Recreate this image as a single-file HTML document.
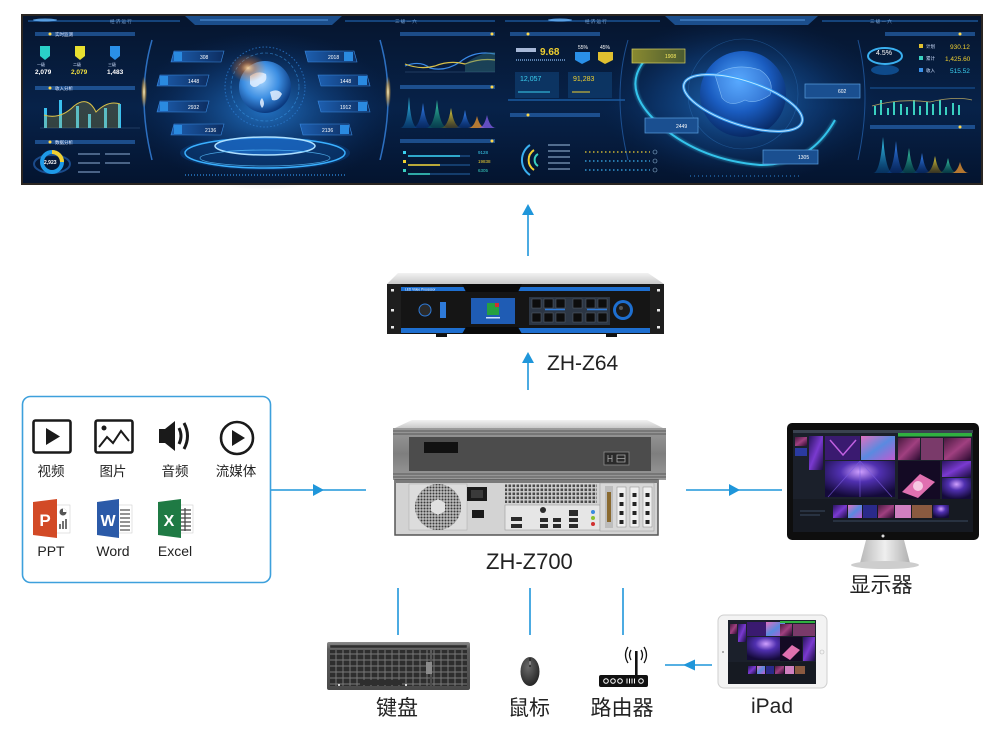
<!DOCTYPE html>
<html><head><meta charset="utf-8">
<style>
html,body{margin:0;padding:0;background:#fff;}
svg{display:block;}
text{font-family:"Liberation Sans","Noto Sans CJK SC",sans-serif;}
</style></head><body>
<svg width="1000" height="732" viewBox="0 0 1000 732" xmlns="http://www.w3.org/2000/svg">
<defs>
 <linearGradient id="bg" x1="0" y1="0" x2="0" y2="1">
  <stop offset="0" stop-color="#06152e"/>
  <stop offset="0.55" stop-color="#072249"/>
  <stop offset="1" stop-color="#04142f"/>
 </linearGradient>
 <radialGradient id="glow" cx="0.5" cy="0.5" r="0.5">
  <stop offset="0" stop-color="#2a8ae8" stop-opacity="0.75"/>
  <stop offset="0.6" stop-color="#134f9a" stop-opacity="0.35"/>
  <stop offset="1" stop-color="#0a2a5a" stop-opacity="0"/>
 </radialGradient>
 <radialGradient id="globe1" cx="0.42" cy="0.38" r="0.62">
  <stop offset="0" stop-color="#a8d6ff"/>
  <stop offset="0.55" stop-color="#3c8ee2"/>
  <stop offset="1" stop-color="#0b3a80"/>
 </radialGradient>
 <radialGradient id="globe2" cx="0.45" cy="0.35" r="0.65">
  <stop offset="0" stop-color="#4fa6ff"/>
  <stop offset="0.55" stop-color="#1a5cc0"/>
  <stop offset="1" stop-color="#082a66"/>
 </radialGradient>
 <radialGradient id="orange" cx="0.5" cy="0.5" r="0.5">
  <stop offset="0" stop-color="#ffd9a0" stop-opacity="0.95"/>
  <stop offset="0.4" stop-color="#e07a30" stop-opacity="0.5"/>
  <stop offset="1" stop-color="#e07a30" stop-opacity="0"/>
 </radialGradient>
 <radialGradient id="gold" cx="0.5" cy="0.5" r="0.5">
  <stop offset="0" stop-color="#fff2c0"/>
  <stop offset="0.5" stop-color="#e6b050" stop-opacity="0.6"/>
  <stop offset="1" stop-color="#e6b050" stop-opacity="0"/>
 </radialGradient>
 <linearGradient id="spikeC" x1="0" y1="0" x2="0" y2="1">
  <stop offset="0" stop-color="#3ee0ff"/><stop offset="1" stop-color="#0a5aa0" stop-opacity="0.4"/>
 </linearGradient>
 <linearGradient id="spikeB" x1="0" y1="0" x2="0" y2="1">
  <stop offset="0" stop-color="#3a8cff"/><stop offset="1" stop-color="#0a3a90" stop-opacity="0.4"/>
 </linearGradient>
 <linearGradient id="spikeY" x1="0" y1="0" x2="0" y2="1">
  <stop offset="0" stop-color="#f0e040"/><stop offset="1" stop-color="#806010" stop-opacity="0.4"/>
 </linearGradient>
 <linearGradient id="spikeT" x1="0" y1="0" x2="0" y2="1">
  <stop offset="0" stop-color="#3ed8b0"/><stop offset="1" stop-color="#0a6a60" stop-opacity="0.4"/>
 </linearGradient>
 <linearGradient id="boxg" x1="0" y1="0" x2="1" y2="0">
  <stop offset="0" stop-color="#1d5fb0"/><stop offset="1" stop-color="#0d2d60"/>
 </linearGradient>
 <linearGradient id="ybox" x1="0" y1="0" x2="1" y2="0">
  <stop offset="0" stop-color="#8a8a30"/><stop offset="1" stop-color="#4a5a30"/>
 </linearGradient>
 <linearGradient id="topgray" x1="0" y1="0" x2="0" y2="1">
  <stop offset="0" stop-color="#f2f2f2"/><stop offset="1" stop-color="#c9c9c9"/>
 </linearGradient>
 <linearGradient id="chassis" x1="0" y1="0" x2="0" y2="1">
  <stop offset="0" stop-color="#9a9a9a"/><stop offset="0.5" stop-color="#7e7e7e"/><stop offset="1" stop-color="#9a9a9a"/>
 </linearGradient>
 <linearGradient id="silver" x1="0" y1="0" x2="1" y2="0">
  <stop offset="0" stop-color="#b8b8b8"/><stop offset="0.5" stop-color="#efefef"/><stop offset="1" stop-color="#b0b0b0"/>
 </linearGradient>
 <linearGradient id="kb" x1="0" y1="0" x2="0" y2="1">
  <stop offset="0" stop-color="#8a8a8a"/><stop offset="0.15" stop-color="#5c5c5c"/><stop offset="1" stop-color="#4a4a4a"/>
 </linearGradient>
 <radialGradient id="mouseg" cx="0.4" cy="0.35" r="0.7">
  <stop offset="0" stop-color="#6a6a6a"/><stop offset="1" stop-color="#222"/>
 </radialGradient>
 <pattern id="mesh" width="3" height="3" patternUnits="userSpaceOnUse">
  <rect width="3" height="3" fill="#bdbdbd"/><circle cx="1.5" cy="1.5" r="1" fill="#3a3a3a"/>
 </pattern>
 <pattern id="vent" width="4" height="4" patternUnits="userSpaceOnUse">
  <rect width="4" height="4" fill="#d0d0d0"/><rect x="0.5" y="0.5" width="2.6" height="2.6" fill="#4a4a4a"/>
 </pattern>
 <pattern id="keys" width="7" height="6" patternUnits="userSpaceOnUse">
  <rect width="7" height="6" fill="#6a6a6a"/><rect x="0.6" y="0.6" width="5.8" height="4.8" rx="0.6" fill="#2e2e2e"/>
 </pattern>
 <linearGradient id="purp" x1="0" y1="0" x2="1" y2="1">
  <stop offset="0" stop-color="#2a1460"/><stop offset="0.5" stop-color="#7a3ad0"/><stop offset="1" stop-color="#1a0c40"/>
 </linearGradient>
 <linearGradient id="pink" x1="0" y1="0" x2="1" y2="1">
  <stop offset="0" stop-color="#e070c0"/><stop offset="0.5" stop-color="#5a8ae0"/><stop offset="1" stop-color="#c05ad0"/>
 </linearGradient>
 <radialGradient id="tunnel" cx="0.5" cy="0.3" r="0.7">
  <stop offset="0" stop-color="#d0a0ff"/><stop offset="0.4" stop-color="#5030b0"/><stop offset="1" stop-color="#140a3a"/>
 </radialGradient>
 <linearGradient id="mag" x1="0" y1="0" x2="1" y2="1">
  <stop offset="0" stop-color="#4a1a40"/><stop offset="0.5" stop-color="#a04080"/><stop offset="1" stop-color="#2a0a30"/>
 </linearGradient>
 <filter id="blur2"><feGaussianBlur stdDeviation="2"/></filter>
 <filter id="blur1"><feGaussianBlur stdDeviation="0.8"/></filter>
</defs>

<rect width="1000" height="732" fill="#fff"/>

<!-- ================= BANNER ================= -->
<rect x="21" y="14" width="962" height="171" fill="#2b2622"/>
<rect x="23" y="16" width="958" height="167" fill="url(#bg)"/>
<g clip-path="none">
 <!-- large glows -->
 <ellipse cx="265" cy="110" rx="130" ry="80" fill="url(#glow)"/>
 <ellipse cx="740" cy="100" rx="140" ry="85" fill="url(#glow)"/>
 <!-- header bars -->
 <path d="M185 16 L342 16 L332 25 L195 25Z" fill="#1b4e8c"/>
 <path d="M200 20 L328 20" stroke="#6fb6ff" stroke-width="1" opacity=".7"/>
 <path d="M665 16 L818 16 L808 25 L675 25Z" fill="#1b4e8c"/>
 <path d="M680 20 L805 20" stroke="#6fb6ff" stroke-width="1" opacity=".7"/>
 <path d="M28 21 L180 21 M345 21 L495 21 M505 21 L660 21 M822 21 L978 21" stroke="#1f5fa8" stroke-width="1.2"/>
 <ellipse cx="45" cy="20" rx="12" ry="1.5" fill="#6ab8ff" opacity=".8"/>
 <ellipse cx="560" cy="20" rx="12" ry="1.5" fill="#6ab8ff" opacity=".8"/>
 <text x="110" y="23" font-size="4.5" fill="#7ea8d8">经 济 运 行</text>
 <text x="395" y="23" font-size="4.5" fill="#7ea8d8">三 级 一 六</text>
 <text x="585" y="23" font-size="4.5" fill="#7ea8d8">经 济 运 行</text>
 <text x="870" y="23" font-size="4.5" fill="#7ea8d8">三 级 一 六</text>

 <!-- dividers / arcs -->
 <path d="M152 40 Q136 95 152 160" stroke="#2c6fc0" stroke-width="1.5" fill="none"/>
 <ellipse cx="144" cy="92" rx="3" ry="16" fill="url(#gold)"/>
 <path d="M380 40 Q396 95 380 160" stroke="#2c6fc0" stroke-width="1.5" fill="none"/>
 <ellipse cx="388" cy="92" rx="3" ry="16" fill="url(#gold)"/>
 <path d="M628 40 Q612 95 628 160" stroke="#1c4f90" stroke-width="1" fill="none"/>
 <path d="M858 40 Q872 95 858 160" stroke="#1c4f90" stroke-width="1" fill="none"/>

 <!-- Panel 1 (left) -->
 <g>
  <path d="M35 34 L135 34" stroke="#2c6fc0" stroke-width="4" opacity=".6"/>
  <circle cx="50" cy="34" r="1.5" fill="#ffd84a"/><text x="55" y="36" font-size="4.5" fill="#dfe8ff">实时监测</text>
  <path d="M40 46 L50 46 L50 56 L45 60 L40 56Z" fill="#2ad0c8"/>
  <path d="M75 46 L85 46 L85 56 L80 60 L75 56Z" fill="#e8e030"/>
  <path d="M110 46 L120 46 L120 56 L115 60 L110 56Z" fill="#2a90e8"/>
  <text x="37" y="66" font-size="4" fill="#cfe0ff">一级</text><text x="73" y="66" font-size="4" fill="#cfe0ff">二级</text><text x="108" y="66" font-size="4" fill="#cfe0ff">三级</text>
  <text x="35" y="74" font-size="6.5" fill="#fff" font-weight="bold">2,079</text>
  <text x="71" y="74" font-size="6.5" fill="#f0e040" font-weight="bold">2,079</text>
  <text x="107" y="74" font-size="6.5" fill="#fff" font-weight="bold">1,483</text>
  <path d="M35 88 L135 88" stroke="#2c6fc0" stroke-width="4" opacity=".6"/>
  <circle cx="50" cy="88" r="1.5" fill="#ffd84a"/><text x="55" y="90" font-size="4.5" fill="#dfe8ff">收入分析</text>
  <path d="M40 128 L140 128" stroke="#3a5a80" stroke-width=".6"/>
  <rect x="44" y="108" width="3" height="20" fill="#3ac0f0"/>
  <rect x="59" y="100" width="3" height="28" fill="#3ac0f0"/>
  <rect x="76" y="106" width="3" height="22" fill="#3ac0f0"/>
  <rect x="88" y="114" width="3" height="14" fill="#3ac0f0"/>
  <rect x="104" y="108" width="3" height="20" fill="#3ac0f0"/>
  <rect x="118" y="104" width="3" height="24" fill="#3ac0f0"/>
  <path d="M44 115 Q60 120 74 106 Q88 95 96 112 Q108 100 120 104 L120 128 L44 128Z" fill="#c0b040" opacity=".25"/>
  <path d="M44 115 Q60 120 74 106 Q88 95 96 112 Q108 100 120 104" stroke="#d8c048" stroke-width="1" fill="none"/>
  <path d="M35 142 L135 142" stroke="#2c6fc0" stroke-width="4" opacity=".6"/>
  <circle cx="50" cy="142" r="1.5" fill="#ffd84a"/><text x="55" y="144" font-size="4.5" fill="#dfe8ff">数据分析</text>
  <ellipse cx="52" cy="164" rx="18" ry="9" fill="none" stroke="#1a4a8a" stroke-width="2"/>
  <circle cx="52" cy="162" r="10" fill="none" stroke="#1e9ae8" stroke-width="4"/>
  <path d="M52 152 A10 10 0 0 1 62 162" stroke="#f0d030" stroke-width="4" fill="none"/>
  <text x="44" y="164" font-size="5" fill="#fff" font-weight="bold">2,923</text>
  <path d="M78 154 L100 154 M105 154 L130 154 M78 163 L100 163 M105 163 L130 163 M78 172 L100 172" stroke="#8fb0d8" stroke-width="1.2" opacity=".8"/>
 </g>

 <!-- Globe 1 -->
 <ellipse cx="265" cy="87" rx="40" ry="40" fill="none" stroke="#2a7ad0" stroke-width="1" stroke-dasharray="1.5 2" opacity=".8"/>
 <ellipse cx="265" cy="87" rx="34" ry="34" fill="none" stroke="#3a9ae8" stroke-width=".8" stroke-dasharray="3 2" opacity=".6"/>
 <circle cx="265" cy="87" r="26" fill="url(#globe1)"/>
 <path d="M250 76 Q258 70 266 74 Q268 82 260 84 Q254 90 250 84Z M270 92 Q278 88 282 94 Q278 102 272 100Z M262 98 Q266 104 262 108 Q258 102 262 98Z" fill="#e4f0ff" opacity=".85"/>
 <ellipse cx="248" cy="68" rx="18" ry="14" fill="url(#orange)"/>
 <!-- platform -->
 <ellipse cx="265" cy="153" rx="85" ry="17" fill="#0a3c7a" opacity=".6"/>
 <ellipse cx="265" cy="153" rx="80" ry="15" fill="none" stroke="#3ab0ff" stroke-width="1.5"/>
 <ellipse cx="265" cy="146" rx="50" ry="9" fill="#1d6fd0" opacity=".7"/>
 <ellipse cx="265" cy="146" rx="50" ry="9" fill="none" stroke="#aee0ff" stroke-width="1.5"/>
 <ellipse cx="265" cy="158" rx="65" ry="8" fill="none" stroke="#5ac0ff" stroke-width=".8" opacity=".8"/>
 <path d="M185 175 L345 175" stroke="#2a80d0" stroke-width="2" stroke-dasharray="1 2" opacity=".7"/>
 <!-- label boxes -->
 <g font-size="5" fill="#fff">
  <path d="M174 51 L224 51 L221 62 L171 62Z" fill="url(#boxg)" stroke="#3a8ae0" stroke-width=".6"/><rect x="174" y="52" width="8" height="9" fill="#2a8ae0"/><text x="200" y="59">308</text>
  <path d="M160 75 L209 75 L206 86 L157 86Z" fill="url(#boxg)" stroke="#3a8ae0" stroke-width=".6"/><rect x="160" y="76" width="8" height="9" fill="#2a8ae0"/><text x="188" y="83">1448</text>
  <path d="M160 101 L209 101 L206 112 L157 112Z" fill="url(#boxg)" stroke="#3a8ae0" stroke-width=".6"/><rect x="160" y="102" width="8" height="9" fill="#2a8ae0"/><text x="188" y="109">2932</text>
  <path d="M174 124 L224 124 L221 135 L171 135Z" fill="url(#boxg)" stroke="#3a8ae0" stroke-width=".6"/><rect x="174" y="125" width="8" height="9" fill="#2a8ae0"/><text x="205" y="132">2136</text>
  <path d="M305 51 L354 51 L357 62 L308 62Z" fill="url(#boxg)" stroke="#3a8ae0" stroke-width=".6"/><rect x="344" y="52" width="9" height="9" fill="#2a8ae0"/><text x="328" y="59">2018</text>
  <path d="M318 75 L367 75 L370 86 L321 86Z" fill="url(#boxg)" stroke="#3a8ae0" stroke-width=".6"/><rect x="358" y="76" width="9" height="9" fill="#2a8ae0"/><text x="340" y="83">1448</text>
  <path d="M318 101 L367 101 L370 112 L321 112Z" fill="url(#boxg)" stroke="#3a8ae0" stroke-width=".6"/><rect x="358" y="102" width="9" height="9" fill="#2a8ae0"/><text x="340" y="109">1912</text>
  <path d="M300 124 L349 124 L352 135 L303 135Z" fill="url(#boxg)" stroke="#3a8ae0" stroke-width=".6"/><rect x="340" y="125" width="9" height="9" fill="#2a8ae0"/><text x="322" y="132">2136</text>
 </g>

 <!-- Panel 3 -->
 <g>
  <path d="M400 34 L495 34" stroke="#2c6fc0" stroke-width="4" opacity=".6"/><circle cx="492" cy="34" r="1.5" fill="#ffd84a"/>
  <path d="M405 72 L495 72" stroke="#3a5a80" stroke-width=".6"/>
  <path d="M405 66 Q420 60 430 68 Q445 72 460 62 Q475 50 495 54" stroke="#3a8ae8" stroke-width="1.2" fill="none"/>
  <path d="M405 64 Q420 70 435 66 Q450 60 465 64 Q480 58 495 60" stroke="#d8c048" stroke-width="1.2" fill="none"/>
  <path d="M465 64 Q480 52 495 52 L495 72 L465 72Z" fill="#3a7a80" opacity=".4"/>
  <path d="M400 87 L495 87" stroke="#2c6fc0" stroke-width="4" opacity=".6"/><circle cx="492" cy="87" r="1.5" fill="#ffd84a"/>
  <path d="M400 128 Q407 128 409 97 Q411 128 418 128Z" fill="url(#spikeC)"/>
  <path d="M412 128 Q420 128 423 103 Q426 128 434 128Z" fill="url(#spikeB)"/>
  <path d="M426 128 Q434 128 437 100 Q440 128 448 128Z" fill="url(#spikeT)"/>
  <path d="M440 128 Q448 128 451 108 Q454 128 462 128Z" fill="url(#spikeY)"/>
  <path d="M454 128 Q462 128 465 110 Q468 128 476 128Z" fill="url(#spikeB)"/>
  <path d="M468 128 Q474 128 477 116 Q480 128 486 128Z" fill="#e09030" opacity=".8"/>
  <path d="M478 128 Q484 128 487 115 Q490 128 496 128Z" fill="#7a5ae0" opacity=".8"/>
  <path d="M400 141 L495 141" stroke="#2c6fc0" stroke-width="4" opacity=".6"/><circle cx="492" cy="141" r="1.5" fill="#ffd84a"/>
  <rect x="403" y="151" width="3" height="3" fill="#3ad0f0"/><path d="M408 156 L470 156" stroke="#1a4a80" stroke-width="1.5"/><path d="M408 156 L460 156" stroke="#3ad0f0" stroke-width="1.5"/><text x="478" y="154" font-size="4.5" fill="#3ad0f0">9128</text>
  <rect x="403" y="160" width="3" height="3" fill="#f0d030"/><path d="M408 165 L470 165" stroke="#1a4a80" stroke-width="1.5"/><path d="M408 165 L440 165" stroke="#f0d030" stroke-width="1.5"/><text x="478" y="163" font-size="4.5" fill="#f0d030">19838</text>
  <rect x="403" y="169" width="3" height="3" fill="#3ad0c0"/><path d="M408 174 L470 174" stroke="#1a4a80" stroke-width="1.5"/><path d="M408 174 L430 174" stroke="#3ad0c0" stroke-width="1.5"/><text x="478" y="172" font-size="4.5" fill="#3ad0c0">6305</text>
 </g>

 <!-- Panel 4 -->
 <g>
  <path d="M510 34 L600 34" stroke="#2c6fc0" stroke-width="4" opacity=".6"/><circle cx="528" cy="34" r="1.5" fill="#ffd84a"/>
  <rect x="516" y="48" width="20" height="4" fill="#cfe0ff" opacity=".8"/>
  <text x="540" y="55" font-size="10" fill="#f0d030" font-weight="bold">9.68</text>
  <path d="M516 60 L565 60" stroke="#5a80b0" stroke-width="2" stroke-dasharray="1 1"/>
  <path d="M575 52 L590 52 L590 60 L582 64 L575 60Z" fill="#2a90e8"/>
  <path d="M598 52 L613 52 L613 60 L605 64 L598 60Z" fill="#e0c030"/>
  <text x="578" y="49" font-size="5" fill="#fff">55%</text><text x="600" y="49" font-size="5" fill="#fff">45%</text>
  <rect x="515" y="72" width="44" height="26" fill="#0e3a6a" opacity=".8"/>
  <text x="520" y="81" font-size="7" fill="#3ad0f0">12,057</text>
  <path d="M518 92 L550 92" stroke="#3ad0f0" stroke-width="1"/>
  <rect x="568" y="72" width="44" height="26" fill="#0e3a6a" opacity=".8"/>
  <text x="573" y="81" font-size="7" fill="#f0d030">91,283</text>
  <path d="M572 92 L590 92" stroke="#f0d030" stroke-width="1"/>
  <path d="M508 100 L625 100" stroke="#1a5aa0" stroke-width="1.5"/>
  <path d="M510 115 L600 115" stroke="#2c6fc0" stroke-width="4" opacity=".6"/><circle cx="528" cy="115" r="1.5" fill="#ffd84a"/>
  <path d="M530 145 A18 18 0 0 0 530 175" stroke="#3ab0f0" stroke-width="2" fill="none"/>
  <path d="M534 150 A12 12 0 0 0 534 170" stroke="#f0d030" stroke-width="2" fill="none"/>
  <path d="M538 154 A7 7 0 0 0 538 166" stroke="#3ad0c0" stroke-width="2" fill="none"/>
  <path d="M548 145 L570 145 M548 151 L570 151 M548 157 L570 157 M548 163 L570 163 M548 169 L570 169" stroke="#9fbfe0" stroke-width="1.2" opacity=".8"/>
  <path d="M585 152 L650 152" stroke="#f0d030" stroke-width="1.3" stroke-dasharray="1.5 2.5"/>
  <path d="M585 161 L650 161" stroke="#3ab0f0" stroke-width="1.3" stroke-dasharray="1.5 2.5"/>
  <path d="M585 170 L650 170" stroke="#3ab0f0" stroke-width="1.3" stroke-dasharray="1.5 2.5"/>
  <circle cx="655" cy="152" r="2" fill="none" stroke="#8ab0d0" stroke-width=".6"/>
  <circle cx="655" cy="161" r="2" fill="none" stroke="#8ab0d0" stroke-width=".6"/>
  <circle cx="655" cy="170" r="2" fill="none" stroke="#8ab0d0" stroke-width=".6"/>
 </g>

 <!-- Globe 2 -->
 <circle cx="743" cy="94" r="55" fill="none" stroke="#2a6ab0" stroke-width=".6" opacity=".6"/>
 <circle cx="743" cy="94" r="43" fill="url(#globe2)"/>
 <path d="M715 75 Q735 62 760 70 Q775 80 770 95 Q755 105 745 100 Q730 108 722 98Z" fill="#6ab0ff" opacity=".35"/>
 <path d="M715 75 Q735 62 760 70 Q775 80 770 95 Q755 105 745 100 Q730 108 722 98Z" fill="none" stroke="#a0d4ff" stroke-width=".6" opacity=".7"/>
 <ellipse cx="743" cy="103" rx="62" ry="22" transform="rotate(18 743 103)" fill="none" stroke="#3aa8ff" stroke-width="3" opacity=".8"/>
 <ellipse cx="743" cy="103" rx="62" ry="22" transform="rotate(18 743 103)" fill="none" stroke="#bfe6ff" stroke-width="1"/>
 <path d="M645 60 Q620 90 660 125 Q700 160 760 165 Q810 165 835 120" stroke="#3ad8ff" stroke-width="2" fill="none" opacity=".85"/>
 <path d="M645 60 Q620 90 660 125 Q700 160 760 165 Q810 165 835 120" stroke="#3ad8ff" stroke-width="5" fill="none" opacity=".25" filter="url(#blur1)"/>
 <g font-size="5" fill="#fff">
  <rect x="632" y="49" width="53" height="14" fill="url(#ybox)" stroke="#d8d060" stroke-width=".7"/><text x="665" y="58" fill="#fff060">1908</text>
  <rect x="645" y="118" width="53" height="15" fill="#1a4f90" stroke="#5aa0e0" stroke-width=".7"/><text x="676" y="128">2449</text>
  <rect x="805" y="84" width="55" height="14" fill="#1a4f90" stroke="#5aa0e0" stroke-width=".7"/><text x="838" y="93">602</text>
  <rect x="763" y="150" width="55" height="14" fill="#1a4f90" stroke="#5aa0e0" stroke-width=".7"/><text x="798" y="159">1305</text>
 </g>
 <path d="M690 176 L800 176" stroke="#2a80d0" stroke-width="1.5" stroke-dasharray="1 3" opacity=".7"/>

 <!-- Panel 6 -->
 <g>
  <path d="M885 34 L975 34" stroke="#2c6fc0" stroke-width="4" opacity=".6"/><circle cx="960" cy="34" r="1.5" fill="#ffd84a"/>
  <ellipse cx="885" cy="56" rx="17" ry="8" fill="none" stroke="#3ab0f0" stroke-width="2"/>
  <ellipse cx="885" cy="70" rx="14" ry="5" fill="#0e4a8a"/>
  <text x="876" y="55" font-size="7" fill="#fff">4.5%</text>
  <rect x="919" y="44" width="4" height="4" fill="#e0c030"/><text x="926" y="48" font-size="4.5" fill="#cfe0ff">计划</text><text x="950" y="49" font-size="6.5" fill="#f0d030">930.12</text>
  <rect x="919" y="56" width="4" height="4" fill="#3ad0c0"/><text x="926" y="60" font-size="4.5" fill="#cfe0ff">累计</text><text x="945" y="61" font-size="6.5" fill="#f0d030">1,425.60</text>
  <rect x="919" y="68" width="4" height="4" fill="#3a90e8"/><text x="926" y="72" font-size="4.5" fill="#cfe0ff">收入</text><text x="950" y="73" font-size="6.5" fill="#3ad0f0">515.52</text>
  <path d="M870 88 L975 88" stroke="#1a5aa0" stroke-width="1"/>
  <g fill="#3ad0c0">
   <rect x="874" y="106" width="2" height="9"/><rect x="880" y="100" width="2" height="15"/><rect x="887" y="108" width="2" height="7"/><rect x="893" y="102" width="2" height="13"/><rect x="900" y="104" width="2" height="11"/><rect x="906" y="107" width="2" height="8"/><rect x="913" y="100" width="2" height="15"/><rect x="919" y="106" width="2" height="9"/><rect x="926" y="102" width="2" height="13"/><rect x="932" y="104" width="2" height="11"/><rect x="939" y="100" width="2" height="15"/><rect x="945" y="107" width="2" height="8"/><rect x="952" y="103" width="2" height="12"/><rect x="958" y="105" width="2" height="10"/>
  </g>
  <path d="M872 106 Q900 98 930 102 Q955 96 972 100" stroke="#b0a060" stroke-width=".8" fill="none"/>
  <path d="M870 127 L975 127" stroke="#2c6fc0" stroke-width="4" opacity=".6"/><circle cx="960" cy="127" r="1.5" fill="#ffd84a"/>
  <path d="M873 173 Q880 173 883 137 Q886 173 893 173Z" fill="url(#spikeC)"/>
  <path d="M886 173 Q893 173 896 141 Q899 173 906 173Z" fill="url(#spikeB)"/>
  <path d="M899 173 Q906 173 909 148 Q912 173 919 173Z" fill="url(#spikeT)"/>
  <path d="M912 173 Q919 173 922 153 Q925 173 932 173Z" fill="url(#spikeB)"/>
  <path d="M925 173 Q932 173 935 156 Q938 173 945 173Z" fill="url(#spikeY)"/>
  <path d="M938 173 Q945 173 948 158 Q951 173 958 173Z" fill="url(#spikeT)"/>
  <path d="M951 173 Q957 173 960 162 Q963 173 969 173Z" fill="#e09030" opacity=".8"/>
 </g>
</g>

<!-- ================= CONNECTORS ================= -->
<g stroke="#1f96da" stroke-width="1.6" fill="none">
 <path d="M528 256 L528 214"/>
 <path d="M528 390 L528 362"/>
 <path d="M271 490 L366 490"/>
 <path d="M686 490 L782 490"/>
 <path d="M398 588 L398 635"/>
 <path d="M530 588 L530 635"/>
 <path d="M623 588 L623 635"/>
 <path d="M665 665 L712 665"/>
</g>
<g fill="#1f96da">
 <path d="M528 204 L534 215 L522 215Z"/>
 <path d="M528 352 L534 363 L522 363Z"/>
 <path d="M324 490 L313 484 L313 496Z"/>
 <path d="M740 490 L729 484 L729 496Z"/>
 <path d="M683 665 L695 659.5 L695 670.5Z"/>
</g>

<!-- ================= ZH-Z64 ================= -->
<path d="M398 273 L648 273 L664 284 L387 284Z" fill="url(#topgray)"/>
<rect x="387" y="284" width="277" height="50" fill="#151515"/>
<rect x="387" y="284" width="14" height="50" fill="#1e1e1e"/>
<rect x="650" y="284" width="14" height="50" fill="#1e1e1e"/>
<g fill="#e8e8e8">
 <rect x="391" y="289" width="3" height="2.5"/><rect x="391" y="309" width="3" height="2.5"/><rect x="391" y="326" width="3" height="2.5"/>
 <rect x="657" y="289" width="3" height="2.5"/><rect x="657" y="309" width="3" height="2.5"/><rect x="657" y="326" width="3" height="2.5"/>
</g>
<rect x="401" y="287" width="249" height="4" fill="#1e6fd0"/>
<rect x="401" y="328" width="249" height="5" fill="#1e6fd0"/>
<path d="M462 284 L522 284 L518 292 L466 292Z" fill="#0a0a0a"/>
<path d="M466 327 L518 327 L522 334 L462 334Z" fill="#0a0a0a"/>
<text x="405" y="290.5" font-size="3.2" fill="#fff">LED Video Processor</text>
<rect x="471" y="298" width="44" height="26" fill="#1f5cb4"/>
<rect x="487" y="303" width="12" height="12" fill="#26a040"/>
<rect x="495" y="303" width="4" height="4" fill="#d03030"/>
<rect x="486" y="317" width="14" height="1.5" fill="#cfe0ff"/>
<rect x="529" y="297" width="81" height="28" fill="#2c3644"/>
<g fill="#0d0d0d" stroke="#5a6470" stroke-width=".5">
 <rect x="532" y="299" width="9" height="9"/><rect x="544" y="299" width="9" height="9"/><rect x="556" y="299" width="9" height="9"/><rect x="573" y="299" width="9" height="9"/><rect x="586" y="299" width="9" height="9"/><rect x="598" y="299" width="9" height="9"/>
 <rect x="532" y="313" width="9" height="9"/><rect x="544" y="313" width="9" height="9"/><rect x="556" y="313" width="9" height="9"/><rect x="573" y="313" width="9" height="9"/><rect x="586" y="313" width="9" height="9"/><rect x="598" y="313" width="9" height="9"/>
</g>
<path d="M545 309.5 L565 309.5 M587 309.5 L607 309.5" stroke="#2e7ad8" stroke-width="1.5"/>
<circle cx="623" cy="310" r="10" fill="#1e6fd0"/>
<circle cx="623" cy="310" r="7" fill="#1a1a1a"/>
<circle cx="621" cy="308" r="2" fill="#555"/>
<circle cx="425" cy="310" r="6" fill="#2a2a2a" stroke="#2e7ad8" stroke-width="1"/>
<rect x="440" y="302" width="6" height="16" fill="#2e7ad8"/>
<rect x="436" y="334" width="11" height="3" fill="#111"/>
<rect x="606" y="334" width="11" height="3" fill="#111"/>

<text x="547" y="370" font-size="21" fill="#222">ZH-Z64</text>

<!-- ================= ZH-Z700 ================= -->
<path d="M412 420 L647 420 L663 428 L395 428Z" fill="url(#topgray)"/>
<rect x="393" y="428" width="273" height="52" fill="url(#chassis)"/>
<path d="M393 431 L666 431 M393 434 L666 434 M393 474 L666 474 M393 477 L666 477" stroke="#5a5a5a" stroke-width="1"/>
<rect x="409" y="437" width="242" height="34" fill="#4c4c4c"/>
<rect x="424" y="442" width="34" height="11" fill="#111"/>
<rect x="604" y="452" width="25" height="13" fill="#2a2a2a" stroke="#8a8a8a" stroke-width=".8"/>
<path d="M608 455 L608 462 M612 455 L612 462 M608 458.5 L612 458.5 M617 455 L625 455 L625 462 L617 462Z M617 458.5 L625 458.5" stroke="#aaa" stroke-width=".8" fill="none"/>
<rect x="395" y="480" width="263" height="55" fill="#d3d3d3" stroke="#555" stroke-width="1.5"/>
<rect x="395" y="480" width="263" height="3" fill="#7a7a7a"/>
<rect x="409" y="484" width="58" height="46" fill="#dcdcdc" stroke="#aaa" stroke-width=".5"/>
<circle cx="438" cy="507" r="23" fill="url(#mesh)"/>
<path d="M438 499 L445 503 L445 511 L438 515 L431 511 L431 503Z" fill="#e0e0e0"/>
<rect x="467" y="487" width="20" height="14" fill="#1a1a1a"/>
<rect x="471" y="490" width="12" height="8" fill="#3a3a3a"/>
<rect x="472" y="510" width="12" height="8" fill="#1a1a1a"/>
<rect x="505" y="484" width="92" height="19" fill="url(#vent)"/>
<rect x="505" y="505" width="95" height="25" fill="#e6e6e6" stroke="#999" stroke-width=".6"/>
<g fill="#2a2a2a">
 <rect x="511" y="517" width="11" height="4"/><rect x="511" y="524" width="11" height="4"/>
 <rect x="540" y="518" width="8" height="4"/><rect x="540" y="524" width="8" height="4"/>
 <rect x="553" y="518" width="8" height="4"/><rect x="553" y="524" width="8" height="4"/>
 <rect x="569" y="510" width="9" height="6"/><rect x="569" y="518" width="9" height="4"/><rect x="569" y="524" width="9" height="4"/>
 <circle cx="543" cy="510" r="3"/>
</g>
<circle cx="593" cy="512" r="2" fill="#3a8ae0"/><circle cx="593" cy="518" r="2" fill="#8ac030"/><circle cx="593" cy="524" r="2" fill="#d03030"/>
<rect x="600" y="483" width="54" height="48" fill="#d8d8d8" stroke="#999" stroke-width=".5"/>
<rect x="605" y="486" width="8" height="42" fill="#bdbdbd"/>
<rect x="607" y="492" width="4" height="30" fill="#8a6a30"/>
<g fill="#f0f0f0" stroke="#888" stroke-width=".5">
 <rect x="617" y="487" width="9" height="40"/><rect x="630" y="487" width="9" height="40"/><rect x="643" y="487" width="9" height="40"/>
</g>
<g fill="#222">
 <rect x="619.5" y="493" width="4" height="4"/><rect x="619.5" y="502" width="4" height="4"/><rect x="619.5" y="511" width="4" height="4"/><rect x="619.5" y="520" width="4" height="4"/>
 <rect x="632.5" y="493" width="4" height="4"/><rect x="632.5" y="502" width="4" height="4"/><rect x="632.5" y="511" width="4" height="4"/><rect x="632.5" y="520" width="4" height="4"/>
 <rect x="645.5" y="493" width="4" height="4"/><rect x="645.5" y="502" width="4" height="4"/><rect x="645.5" y="511" width="4" height="4"/><rect x="645.5" y="520" width="4" height="4"/>
</g>

<text x="486" y="569" font-size="22" fill="#222">ZH-Z700</text>

<!-- ================= LEFT BOX ================= -->
<rect x="22.5" y="396.5" width="248" height="186" rx="8" fill="#fff" stroke="#3da0dc" stroke-width="1.6"/>
<g fill="none" stroke="#1a1a1a" stroke-width="2.6">
 <rect x="33.5" y="420.5" width="37" height="32" rx="2"/>
 <rect x="95.5" y="420.5" width="37" height="32" rx="2"/>
 <circle cx="237" cy="438" r="16"/>
 <path d="M179 428 Q183 436 179 444" stroke-width="3"/>
 <path d="M184 423 Q191 436 184 449" stroke-width="3"/>
 <polyline points="99,447 107,437 113,443 121,431 129,441" stroke-width="2"/>
</g>
<g fill="#1a1a1a">
 <path d="M46 428 L46 445 L60 436.5Z"/>
 <circle cx="104" cy="428" r="2.5"/>
 <rect x="159" y="429" width="7" height="14"/>
 <path d="M165 429 L175 421 L175 451 L165 443Z"/>
 <path d="M232 430 L232 446 L245 438Z"/>
</g>
<g font-size="13.5" fill="#222" text-anchor="middle">
 <text x="51" y="476">视频</text>
 <text x="113" y="476">图片</text>
 <text x="175" y="476">音频</text>
 <text x="236" y="476">流媒体</text>
</g>
<!-- PPT -->
<rect x="52" y="505" width="18" height="28" fill="#fff" stroke="#d0d0d0" stroke-width=".6"/>
<circle cx="63" cy="512" r="3.5" fill="#555"/><path d="M63 512 L63 508.5 A3.5 3.5 0 0 1 66.5 512Z" fill="#fff"/>
<path d="M60 529 L60 524 M63 529 L63 521 M66 529 L66 519" stroke="#444" stroke-width="1.5"/>
<path d="M33 502 L57 499 L57 538 L33 535Z" fill="#d24a26"/>
<text x="45" y="526" font-size="17" fill="#fff" font-weight="bold" text-anchor="middle">P</text>
<!-- Word -->
<rect x="116" y="505" width="16" height="28" fill="#fff" stroke="#d0d0d0" stroke-width=".6"/>
<path d="M120 510 L130 510 M120 514 L130 514 M120 518 L130 518 M120 522 L130 522 M120 526 L130 526 M120 530 L130 530" stroke="#555" stroke-width="1.2"/>
<path d="M97 502 L119 499 L119 538 L97 535Z" fill="#2b5aa8"/>
<text x="108" y="526" font-size="16" fill="#fff" font-weight="bold" text-anchor="middle">W</text>
<!-- Excel -->
<rect x="177" y="505" width="16" height="28" fill="#fff" stroke="#d0d0d0" stroke-width=".6"/>
<path d="M181 510 L191 510 M181 514 L191 514 M181 518 L191 518 M181 522 L191 522 M181 526 L191 526 M181 530 L191 530 M185 508 L185 531" stroke="#444" stroke-width="1.2"/>
<path d="M158 502 L181 499 L181 538 L158 535Z" fill="#1f7a44"/>
<text x="169" y="526" font-size="16" fill="#fff" font-weight="bold" text-anchor="middle">X</text>
<g font-size="14" fill="#222" text-anchor="middle">
 <text x="51" y="556">PPT</text>
 <text x="113" y="556">Word</text>
 <text x="175" y="556">Excel</text>
</g>

<!-- ================= MONITOR ================= -->
<path d="M866 540 L904 540 L910 563 L860 563Z" fill="url(#silver)"/>
<ellipse cx="885" cy="565" rx="34" ry="4" fill="#cdcdcd"/>
<rect x="787" y="423" width="192" height="117" rx="5" fill="#0e0e0e"/>
<rect x="793" y="430" width="180" height="102" fill="#1b202b"/>
<rect x="793" y="430" width="180" height="3" fill="#3a4250"/>
<rect x="795" y="437" width="12" height="9" fill="url(#mag)"/>
<rect x="795" y="448" width="12" height="8" fill="#2a3aa0"/>
<rect x="809" y="436" width="14" height="34" fill="url(#purp)"/>
<rect x="825" y="436" width="35" height="24" fill="#3a1a70"/>
<path d="M830 440 L843 455 L856 440" stroke="#c060e0" stroke-width="1.5" fill="none"/>
<rect x="861" y="436" width="34" height="24" fill="url(#pink)"/>
<rect x="825" y="461" width="70" height="36" fill="url(#tunnel)"/>
<path d="M860 461 L828 497 M860 461 L892 497 M860 461 L860 497" stroke="#7a5ae0" stroke-width=".8" opacity=".7"/>
<rect x="898" y="433" width="74" height="3.5" fill="#30b040"/>
<rect x="898" y="438" width="22" height="22" fill="url(#mag)"/>
<rect x="921" y="438" width="22" height="22" fill="#7a3a6a"/>
<rect x="944" y="438" width="27" height="22" fill="url(#mag)"/>
<rect x="898" y="461" width="42" height="38" fill="#140a24"/>
<path d="M902 492 L920 474 L935 482 L918 498Z" fill="#e070b0"/>
<circle cx="918" cy="486" r="5" fill="#fff0f8" opacity=".7"/>
<rect x="942" y="461" width="29" height="16" fill="url(#purp)"/>
<rect x="942" y="478" width="29" height="21" fill="url(#tunnel)"/>
<rect x="793" y="499" width="180" height="33" fill="#161a22"/>
<rect x="833" y="505" width="14" height="13" fill="url(#purp)"/>
<rect x="848" y="505" width="14" height="13" fill="url(#pink)"/>
<rect x="863" y="505" width="14" height="13" fill="#2a2a8a"/>
<rect x="878" y="505" width="16" height="13" fill="url(#mag)"/>
<rect x="895" y="505" width="16" height="13" fill="#d080c0"/>
<rect x="912" y="505" width="20" height="13" fill="#8a5a40"/>
<rect x="933" y="505" width="16" height="13" fill="url(#tunnel)"/>
<path d="M833 521 L968 521" stroke="#3a4a60" stroke-width="1"/>
<path d="M800 511 L825 511 M800 515 L820 515" stroke="#3a4a60" stroke-width="1"/>
<circle cx="883" cy="536" r="1.5" fill="#ddd"/>

<text x="881" y="592" font-size="21" fill="#222" text-anchor="middle">显示器</text>

<!-- ================= KEYBOARD ================= -->
<rect x="327" y="642" width="143" height="48" rx="2" fill="url(#kb)"/>
<rect x="330" y="645" width="137" height="3" fill="#2e2e2e"/>
<rect x="330" y="645" width="137" height="3" fill="none" stroke="#777" stroke-width=".4"/>
<rect x="330" y="650" width="100" height="36" fill="url(#keys)"/>
<rect x="432" y="650" width="35" height="36" fill="url(#keys)"/>
<rect x="360" y="680" width="42" height="5" fill="#2e2e2e"/>
<circle cx="339" cy="685" r="1" fill="#fff"/><circle cx="406" cy="685" r="1" fill="#fff"/>
<rect x="426" y="662" width="6" height="12" fill="#8a8a8a"/>

<!-- ================= MOUSE ================= -->
<ellipse cx="530" cy="671.5" rx="9.5" ry="14.5" fill="url(#mouseg)"/>
<path d="M530 658 L530 667" stroke="#111" stroke-width="1"/>
<rect x="529" y="661" width="2" height="4" rx="1" fill="#888"/>

<!-- ================= ROUTER ================= -->
<rect x="635" y="651" width="2.6" height="25" fill="#111"/>
<g stroke="#111" stroke-width="1.3" fill="none">
 <path d="M631 650 Q628 655 631 660"/>
 <path d="M628 647 Q623 655 628 663"/>
 <path d="M641 650 Q644 655 641 660"/>
 <path d="M644 647 Q649 655 644 663"/>
</g>
<rect x="599" y="675" width="49" height="12" rx="2" fill="#111"/>
<g stroke="#fff" stroke-width="1" fill="none">
 <circle cx="606" cy="681" r="2.3"/>
 <circle cx="613" cy="681" r="2.3"/>
 <circle cx="620" cy="681" r="2.3"/>
 <circle cx="641" cy="681" r="2.3"/>
 <path d="M627 678.5 L627 683.5 M629.5 678.5 L629.5 683.5 M632 678.5 L632 683.5 M634.5 678.5 L634.5 683.5"/>
</g>

<g font-size="21" fill="#222" text-anchor="middle">
 <text x="397" y="715">键盘</text>
 <text x="529" y="715">鼠标</text>
 <text x="622" y="715">路由器</text>
</g>

<!-- ================= IPAD ================= -->
<rect x="718" y="615" width="109" height="73" rx="6" fill="#f3f3f3" stroke="#cfcfcf" stroke-width="1"/>
<rect x="728" y="620" width="88" height="64" fill="#1b202b"/>
<rect x="730" y="624" width="7" height="10" fill="url(#mag)"/>
<rect x="738" y="624" width="8" height="18" fill="url(#purp)"/>
<rect x="747" y="622" width="19" height="14" fill="#3a1a70"/>
<rect x="766" y="622" width="19" height="14" fill="url(#pink)"/>
<rect x="747" y="637" width="38" height="23" fill="url(#tunnel)"/>
<rect x="780" y="621" width="35" height="2" fill="#30b040"/>
<rect x="780" y="624" width="12" height="12" fill="url(#mag)"/>
<rect x="793" y="624" width="22" height="12" fill="#7a3a6a"/>
<rect x="780" y="637" width="22" height="24" fill="#140a24"/>
<path d="M782 655 L792 645 L800 650 L790 660Z" fill="#e070b0"/>
<rect x="803" y="637" width="12" height="24" fill="url(#purp)"/>
<rect x="728" y="662" width="88" height="22" fill="#161a22"/>
<rect x="748" y="666" width="8" height="8" fill="url(#purp)"/>
<rect x="757" y="666" width="8" height="8" fill="url(#pink)"/>
<rect x="766" y="666" width="8" height="8" fill="#2a2a8a"/>
<rect x="775" y="666" width="9" height="8" fill="url(#mag)"/>
<rect x="785" y="666" width="9" height="8" fill="#d080c0"/>
<rect x="795" y="666" width="10" height="8" fill="#8a5a40"/>
<circle cx="723" cy="652" r="1" fill="#999"/>
<circle cx="822" cy="652" r="2" fill="none" stroke="#bbb" stroke-width=".6"/>

<text x="772" y="713" font-size="21" fill="#222" text-anchor="middle">iPad</text>
</svg>
</body></html>
